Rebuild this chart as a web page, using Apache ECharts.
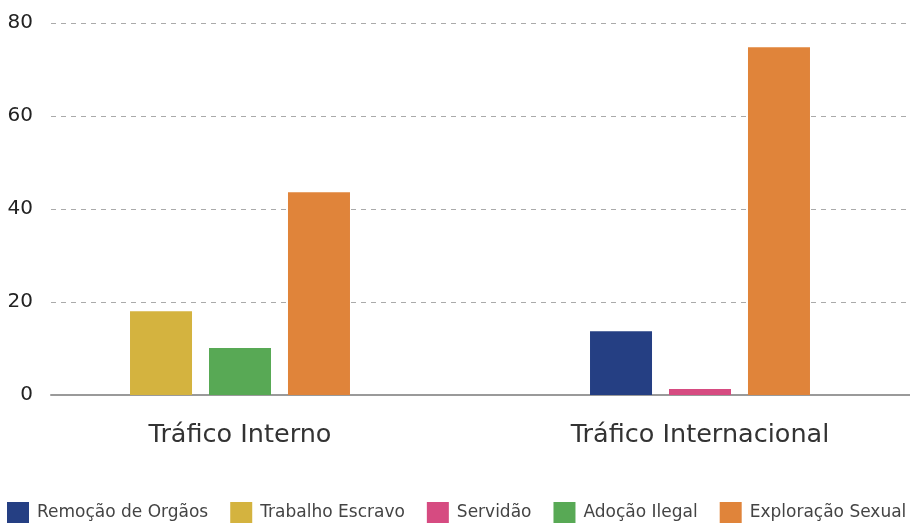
<!DOCTYPE html>
<html><head><meta charset="utf-8">
<script src="https://cdn.jsdelivr.net/npm/echarts@6/dist/echarts.min.js"></script>
<style>html,body{margin:0;padding:0;background:#fff;overflow:hidden;width:910px;height:523px}#c{width:930px;height:523px}</style>
</head><body><div id="c"></div>
<script>
const categories = ['Tráfico Interno', 'Tráfico Internacional'];
const seriesNames = ['Remoção de Orgãos', 'Trabalho Escravo', 'Servidão', 'Adoção Ilegal', 'Exploração Sexual'];
const remocao = [null, 13.7];
const trabalho = [18.0, null];
const servidao = [null, 1.3];
const adocao = [10.1, null];
const exploracao = [43.6, 74.8];
const yMin = 0, yMax = 80, yStep = 20;

const colors = ['#253f83', '#d4b33f', '#d64b81', '#58a955', '#e0843a'];
const slots = ['a', 'a', 'b', 'b', 'c'];
const values = [remocao, trabalho, servidao, adocao, exploracao];
const FONT = 'DejaVu Sans';

const chart = echarts.init(document.getElementById('c'));
chart.setOption({
  animation: false,
  textStyle: { fontFamily: FONT },
  grid: [
    { left: 10, right: 0, top: 23, bottom: 128 },
    { left: 51, right: 20, top: 23, bottom: 128 }
  ],
  xAxis: [
    { gridIndex: 0, type: 'category', data: categories,
      axisLine: { show: false }, axisTick: { show: false },
      axisLabel: { fontSize: 25.5, color: '#333', margin: 27, fontFamily: FONT } },
    { gridIndex: 1, type: 'category', data: categories,
      axisLine: { show: true, lineStyle: { color: '#9a9a9a', width: 2 } },
      axisTick: { show: false }, axisLabel: { show: false } }
  ],
  yAxis: [
    { gridIndex: 0, type: 'value', min: yMin, max: yMax, interval: yStep, show: false },
    { gridIndex: 1, type: 'value', min: yMin, max: yMax, interval: yStep,
      axisLine: { show: false }, axisTick: { show: false },
      axisLabel: { fontSize: 20, color: '#222', margin: 18, fontFamily: FONT },
      splitLine: { lineStyle: { color: '#aaa', type: [5, 5], width: 1 } } }
  ],
  legend: {
    top: 502, left: 7, padding: 0, icon: 'rect', itemWidth: 22, itemHeight: 21, itemGap: 22,
    textStyle: { fontSize: 17, color: '#444', fontFamily: FONT, padding: [0, 0, 0, 3] },
    data: seriesNames
  },
  series: seriesNames.map((n, i) => ({
    name: n, type: 'bar', xAxisIndex: 0, yAxisIndex: 0,
    stack: slots[i], data: values[i], barWidth: 62, barGap: '27.4%',
    itemStyle: { color: colors[i] }
  }))
});
</script></body></html>
